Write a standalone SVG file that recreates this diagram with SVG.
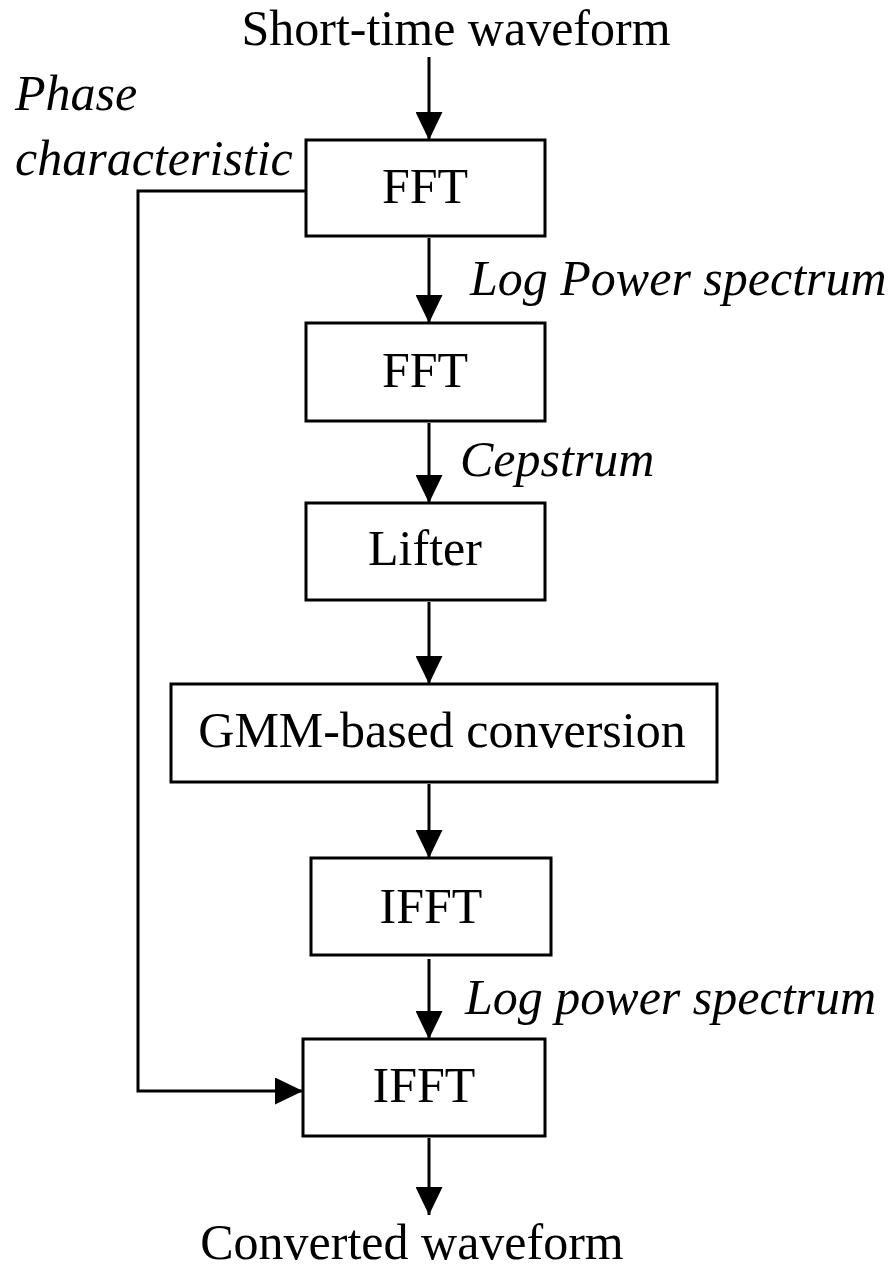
<svg xmlns="http://www.w3.org/2000/svg" width="891" height="1269" viewBox="0 0 891 1269">
<defs>
<marker id="ah" markerUnits="userSpaceOnUse" markerWidth="28" markerHeight="27" viewBox="0 0 28 27" refX="28" refY="13.5" orient="auto">
<path d="M0,0 L28,13.5 L0,27 Z" fill="#000"/>
</marker>
</defs>
<style>
.box{fill:#fff;stroke:#000;stroke-width:3}
.t{font-family:"Liberation Serif","Times New Roman",serif;font-size:50px;fill:#000;text-anchor:middle}
.i{font-family:"Liberation Serif","Times New Roman",serif;font-size:50px;font-style:italic;fill:#000}
.c{fill:none;stroke:#000;stroke-width:3}
</style>
<rect width="891" height="1269" fill="#fff"/>
<g id="connectors">
<line class="c" x1="429" y1="57" x2="429" y2="140" marker-end="url(#ah)"/>
<line class="c" x1="429" y1="238" x2="429" y2="323" marker-end="url(#ah)"/>
<line class="c" x1="429" y1="423" x2="429" y2="503" marker-end="url(#ah)"/>
<line class="c" x1="429" y1="602" x2="429" y2="684" marker-end="url(#ah)"/>
<line class="c" x1="429" y1="784" x2="429" y2="858" marker-end="url(#ah)"/>
<line class="c" x1="429" y1="959" x2="429" y2="1039" marker-end="url(#ah)"/>
<line class="c" x1="429" y1="1138" x2="429" y2="1215" marker-end="url(#ah)"/>
<polyline class="c" points="306,191 138,191 138,1091 303,1091" marker-end="url(#ah)"/>
</g>
<g id="label-in"><text class="t" x="456" y="45">Short-time waveform</text></g>
<g id="label-phase"><text class="i" x="15" y="110">Phase</text><text class="i" x="15" y="175">characteristic</text></g>
<g id="fft1"><rect class="box" x="306" y="140" width="239" height="96"/><text class="t" x="425" y="203">FFT</text></g>
<g id="label-logpower"><text class="i" x="470" y="295">Log Power spectrum</text></g>
<g id="fft2"><rect class="box" x="306" y="323" width="239" height="98"/><text class="t" x="425" y="387">FFT</text></g>
<g id="label-cep"><text class="i" x="460" y="476">Cepstrum</text></g>
<g id="lifter"><rect class="box" x="306" y="503" width="239" height="97"/><text class="t" x="425" y="565">Lifter</text></g>
<g id="gmm"><rect class="box" x="171" y="684" width="546" height="98"/><text class="t" x="442" y="747">GMM-based conversion</text></g>
<g id="ifft1"><rect class="box" x="311" y="858" width="240" height="97"/><text class="t" x="431" y="923">IFFT</text></g>
<g id="label-logpower2"><text class="i" x="465" y="1014">Log power spectrum</text></g>
<g id="ifft2"><rect class="box" x="303" y="1039" width="242" height="97"/><text class="t" x="424" y="1102">IFFT</text></g>
<g id="label-out"><text class="t" x="412" y="1259">Converted waveform</text></g>
</svg>
